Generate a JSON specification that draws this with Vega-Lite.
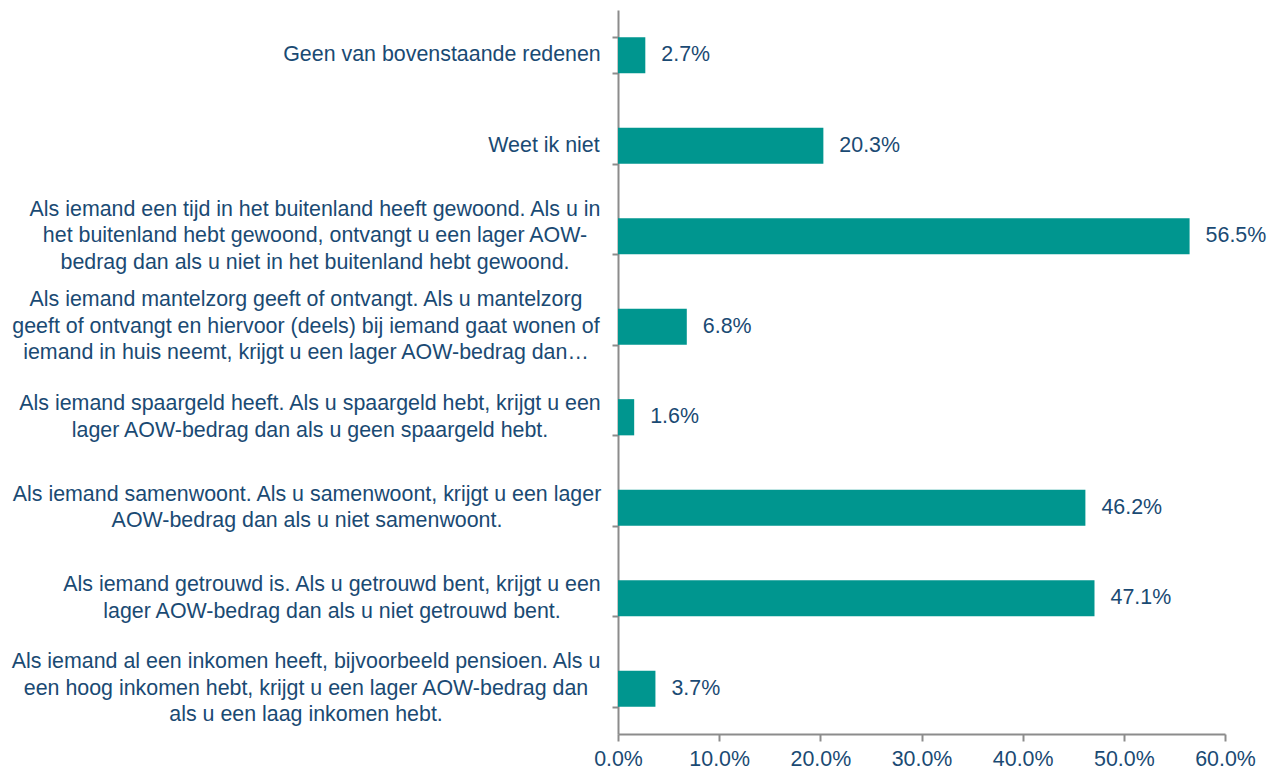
{
  "$schema": "https://vega.github.io/schema/vega-lite/v6.json",
  "autosize": "none",
  "width": 607,
  "height": 724,
  "padding": {"left": 618, "top": 10, "right": 53, "bottom": 38},
  "background": "white",
  "config": {
    "view": {"stroke": null},
    "font": "Liberation Sans"
  },
  "data": {
    "values": [
      {"reden": "Geen van bovenstaande redenen", "aandeel": 0.027},
      {"reden": "Weet ik niet", "aandeel": 0.203},
      {"reden": "Als iemand een tijd in het buitenland heeft gewoond. Als u in|het buitenland hebt gewoond, ontvangt u een lager AOW-|bedrag dan als u niet in het buitenland hebt gewoond.", "aandeel": 0.565},
      {"reden": "Als iemand mantelzorg geeft of ontvangt. Als u mantelzorg|geeft of ontvangt en hiervoor (deels) bij iemand gaat wonen of|iemand in huis neemt, krijgt u een lager AOW-bedrag dan…", "aandeel": 0.068},
      {"reden": "Als iemand spaargeld heeft. Als u spaargeld hebt, krijgt u een|lager AOW-bedrag dan als u geen spaargeld hebt.", "aandeel": 0.016},
      {"reden": "Als iemand samenwoont. Als u samenwoont, krijgt u een lager|AOW-bedrag dan als u niet samenwoont.", "aandeel": 0.462},
      {"reden": "Als iemand getrouwd is. Als u getrouwd bent, krijgt u een|lager AOW-bedrag dan als u niet getrouwd bent.", "aandeel": 0.471},
      {"reden": "Als iemand al een inkomen heeft, bijvoorbeeld pensioen. Als u|een hoog inkomen hebt, krijgt u een lager AOW-bedrag dan|als u een laag inkomen hebt.", "aandeel": 0.037}
    ]
  },
  "encoding": {
    "y": {
      "field": "reden",
      "type": "nominal",
      "sort": null,
      "scale": {"paddingInner": 0.6, "paddingOuter": 0.3},
      "axis": {
        "title": null,
        "labels": false,
        "tickBand": "extent",
        "tickSize": 6,
        "tickWidth": 2,
        "tickColor": "#8c8c8c",
        "domainColor": "#8c8c8c",
        "domainWidth": 2
      }
    },
    "x": {
      "field": "aandeel",
      "type": "quantitative",
      "scale": {"domain": [0, 0.6], "nice": false},
      "axis": {
        "title": null,
        "format": ".1%",
        "values": [0, 0.1, 0.2, 0.3, 0.4, 0.5, 0.6],
        "grid": false,
        "labelFontSize": 21.4,
        "labelColor": "#1a4a73",
        "labelPadding": 7,
        "labelFlush": false,
        "tickSize": 7,
        "tickWidth": 2,
        "tickColor": "#8c8c8c",
        "domainColor": "#8c8c8c",
        "domainWidth": 2
      }
    }
  },
  "layer": [
    {"mark": {"type": "bar", "color": "#00968f"}},
    {
      "mark": {"type": "text", "align": "left", "baseline": "middle", "dx": 16, "fontSize": 21.4, "color": "#1a4a73"},
      "encoding": {"text": {"field": "aandeel", "type": "quantitative", "format": ".1%"}}
    },
    {
      "mark": {
        "type": "text",
        "align": "center",
        "baseline": "middle",
        "fontSize": 21.4,
        "lineHeight": 26.5,
        "color": "#1a4a73",
        "text": {"expr": "split(datum.reden, '|')"},
        "dx": {"expr": "indexof(datum.reden,'Geen')===0 ? -176 : indexof(datum.reden,'Weet')===0 ? -74 : indexof(datum.reden,'buitenland heeft')>0 ? -303 : indexof(datum.reden,'mantelzorg')>0 ? -312 : indexof(datum.reden,'spaargeld')>0 ? -308 : indexof(datum.reden,'samenwoont')>0 ? -311 : indexof(datum.reden,'getrouwd')>0 ? -286 : -312"},
        "dy": {"expr": "-(length(split(datum.reden, '|')) - 1) * 13.25"}
      },
      "encoding": {"x": {"datum": 0, "type": "quantitative"}}
    }
  ]
}
